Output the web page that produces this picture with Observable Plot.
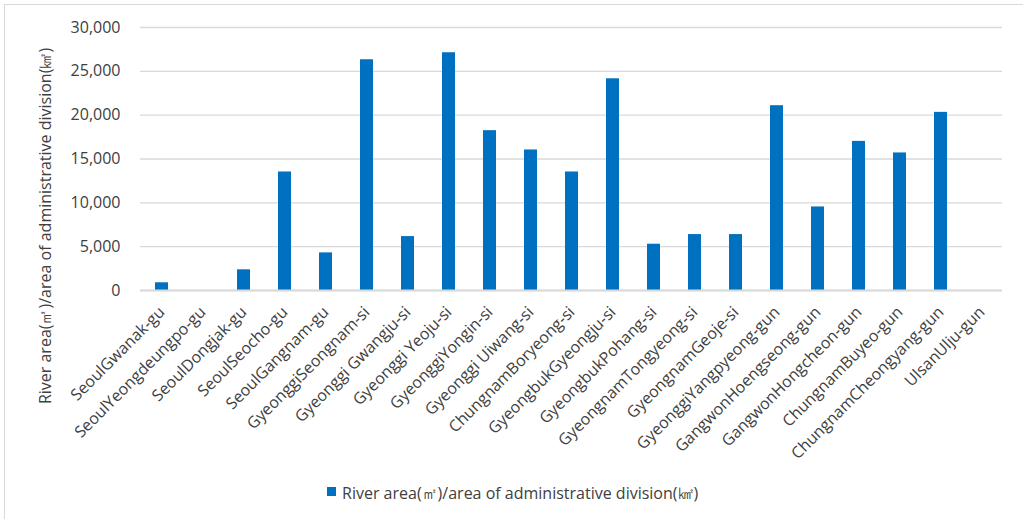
<!DOCTYPE html>
<html>
<head>
<meta charset="utf-8">
<script src="https://cdn.jsdelivr.net/npm/d3@7"></script>
<script src="https://cdn.jsdelivr.net/npm/@observablehq/plot@0.6"></script>
<style>
  html, body { margin: 0; padding: 0; background: #fff; overflow: hidden; }
  body { width: 1023px; height: 519px; position: relative; font-family: "Open Sans", sans-serif; }
  #edge { position: absolute; left: 4px; top: 4px; width: 1100px; height: 600px;
          border-top: 1px solid #d9d9d9; border-left: 1px solid #d9d9d9; pointer-events: none; }
  #chart svg { display: block; }
  #legend { position: absolute; left: 327px; top: 482px; display: flex; align-items: center;
            font-size: 16px; color: #404040; }
  #legend .sw { width: 9px; height: 9px; background: #0070C0; margin-right: 6px; margin-top: -5px; }
</style>
</head>
<body>
<div id="chart"></div>
<div id="legend"></div>
<div id="edge"></div>
<script>
// Administrative divisions, in display order
const divisions = [
  "SeoulGwanak-gu", "SeoulYeongdeungpo-gu", "SeoulDongjak-gu", "SeoulSeocho-gu",
  "SeoulGangnam-gu", "GyeonggiSeongnam-si", "Gyeonggi Gwangju-si", "Gyeonggi Yeoju-si",
  "GyeonggiYongin-si", "Gyeonggi Uiwang-si", "ChungnamBoryeong-si", "GyeongbukGyeongju-si",
  "GyeongbukPohang-si", "GyeongnamTongyeong-si", "GyeongnamGeoje-si", "GyeonggiYangpyeong-gun",
  "GangwonHoengseong-gun", "GangwonHongcheon-gun", "ChungnamBuyeo-gun", "ChungnamCheongyang-gun",
  "UlsanUlju-gun"
];
// River area (m²) per area of administrative division (km²)
const riverRatio = [
  880, 0, 2360, 13520,
  4290, 26320, 6150, 27120,
  18230, 16030, 13520, 24150,
  5280, 6380, 6380, 21080,
  9530, 17010, 15690, 20320,
  0
];
const yTicks = [0, 5000, 10000, 15000, 20000, 25000, 30000];
const seriesName = "River area(㎡)/area of administrative division(㎢)";

const rows = divisions.map((name, i) => ({name, value: riverRatio[i]}));

const chart = Plot.plot({
  width: 1023,
  height: 472,
  marginLeft: 140,
  marginRight: 21,
  marginTop: 27,
  marginBottom: 182,
  style: {fontFamily: "Open Sans, sans-serif", fontSize: "16px", color: "#404040", background: "transparent"},
  x: {domain: divisions, paddingInner: 0.69, paddingOuter: 0.335, label: null},
  y: {domain: [0, 30000], label: null},
  marks: [
    Plot.gridY(yTicks, {stroke: "#d9d9d9", strokeOpacity: 1, strokeWidth: 1.3}),
    Plot.axisY({ticks: yTicks, tickSize: 0, tickPadding: 20, tickFormat: d3.format(","), label: null, fontSize: 16}),
    Plot.axisX({tickSize: 0, tickPadding: 19, tickRotate: -45, label: null, fontSize: 16}),
    Plot.barY(rows, {x: "name", y: "value", fill: "#0070C0"}),
    Plot.ruleY([0], {stroke: "#d9d9d9", strokeWidth: 2}),
    Plot.text([seriesName], {frameAnchor: "left", textAnchor: "middle", rotate: -90, dx: -95, dy: 67, text: d => d, fontSize: 16, fill: "#404040"})
  ]
});
document.getElementById("chart").append(chart);

const legend = document.getElementById("legend");
legend.innerHTML = `<span class="sw"></span><span></span>`;
legend.lastChild.textContent = seriesName;
</script>
</body>
</html>
